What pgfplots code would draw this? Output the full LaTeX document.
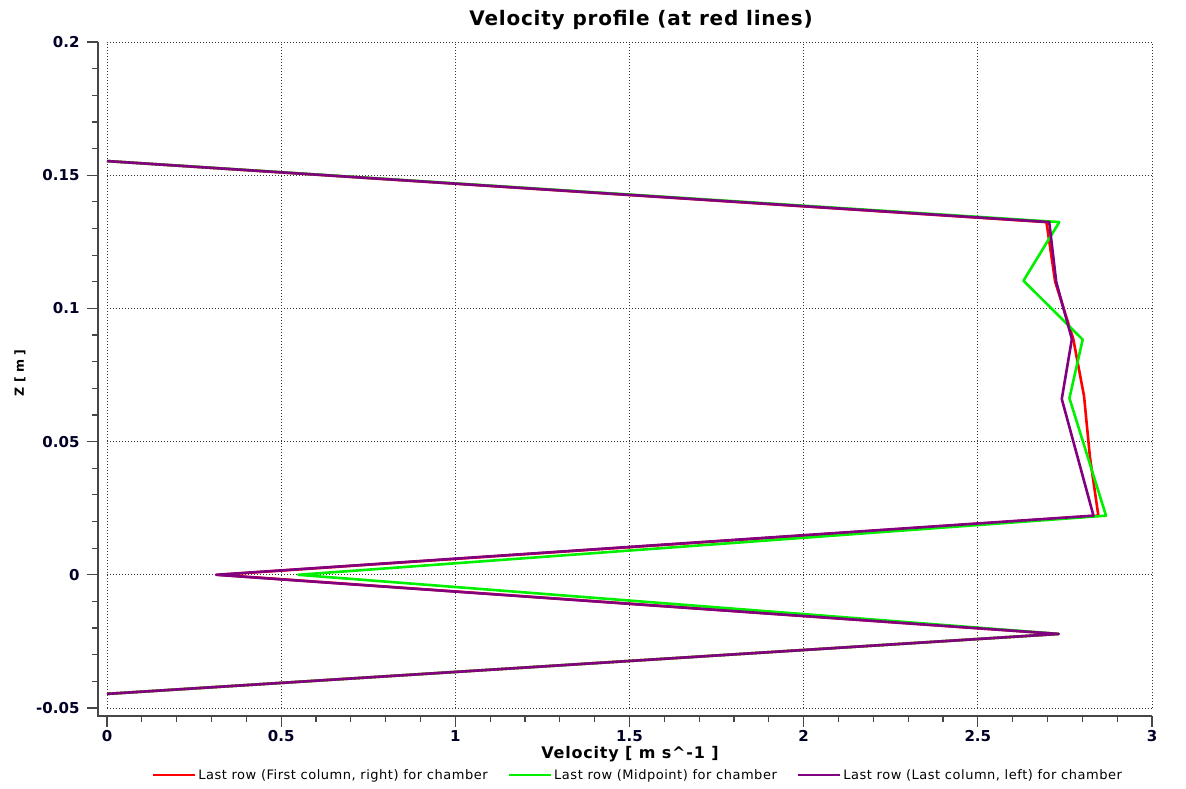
\documentclass[border=0pt]{standalone}
\usepackage{fontspec}
\setmainfont{DejaVu Sans}
\usepackage{pgfplots}
\pgfplotsset{compat=1.18}
\definecolor{axisgray}{RGB}{70,70,70}
\definecolor{vpurple}{RGB}{128,0,128}
\definecolor{vgreen}{RGB}{0,240,0}
\newfontfamily\titlefont[LetterSpace=4]{DejaVu Sans Bold}
\newfontfamily\labelfont[LetterSpace=5]{DejaVu Sans Bold}
\newfontfamily\legendfont[LetterSpace=4]{DejaVu Sans}
\newfontfamily\tickfont{DejaVu Sans Bold}

\begin{document}
\begin{tikzpicture}[x=1pt,y=1pt]
\useasboundingbox (0,0) rectangle (1186,789);
\begin{axis}[
  at={(107pt,81pt)}, anchor=south west,
  scale only axis, width=1045pt, height=666pt,
  xmin=0, xmax=3, ymin=-0.05, ymax=0.2,
  axis x line*=bottom, axis y line*=left,
  axis x line shift=8pt, axis y line shift=9pt,
  axis line style={axisgray, line width=1.4pt, -},
  xtick={0,0.5,1,1.5,2,2.5,3},
  xticklabels={0,0.5,1,1.5,2,2.5,3},
  ytick={-0.05,0,0.05,0.1,0.15,0.2},
  yticklabels={-0.05,0,0.05,0.1,0.15,0.2},
  minor tick num=4,
  tick align=outside,
  major tick length=11pt, minor tick length=6pt,
  tick style={axisgray, line width=1.2pt},
  ticklabel style={font=\tickfont\fontsize{15}{17}\selectfont, text=black!85!blue},
  yticklabel style={xshift=-4pt},
  grid=major,
  major grid style={black!80, line width=0.9pt, dash pattern=on 1pt off 2pt},
  clip=false,
  legend style={at={(0.508,-0.1006)}, anchor=center, draw=none, fill=none,
    legend columns=3, font=\legendfont\fontsize{13}{15}\selectfont,
    /tikz/every even column/.append style={column sep=18pt}},
  legend image code/.code={\draw[#1] (0pt,0pt) -- (35pt,0pt);
    \path (0pt,0pt) -- (42pt,0pt);},
]
% Red: first column, right side
\addplot[red, line width=2.6pt, line join=round] table {
0      0.1553
2.697  0.1324
2.722  0.1100
2.774  0.0885
2.805  0.0670
2.822  0.0440
2.846  0.0222
0.320  0.0000
2.732 -0.0222
0     -0.0447
};
\addlegendentry{Last row (First column, right) for chamber}
% Green: midpoint
\addplot[vgreen, line width=2.6pt, line join=round] table {
0      0.1553
2.734  0.1324
2.631  0.1104
2.801  0.0883
2.763  0.0663
2.868  0.0222
0.549  0.0000
2.732 -0.0222
0     -0.0447
};
\addlegendentry{Last row (Midpoint) for chamber}
% Purple: last column, left side
\addplot[vpurple, line width=2.6pt, line join=round] table {
0      0.1553
2.705  0.1324
2.725  0.1100
2.770  0.0885
2.741  0.0660
2.832  0.0222
0.313  0.0000
2.732 -0.0222
0     -0.0447
};
\addlegendentry{Last row (Last column, left) for chamber}

% corner where the two shifted axis lines meet
\draw[axisgray, line width=1.4pt]
  ([xshift=-9pt]rel axis cs:0,0) -- ([xshift=-9pt,yshift=-8pt]rel axis cs:0,0)
  -- ([yshift=-8pt]rel axis cs:0,0);
\end{axis}
\node[font=\titlefont\fontsize{20}{22}\selectfont] at (641,769) {Velocity profile (at red lines)};
\node[font=\labelfont\fontsize{16}{18}\selectfont] at (630,35) {Velocity [ m s\textasciicircum-1 ]};
\node[font=\tickfont\fontsize{12.5}{15}\selectfont, rotate=90] at (20,416) {Z [ m ]};
\end{tikzpicture}
\end{document}
